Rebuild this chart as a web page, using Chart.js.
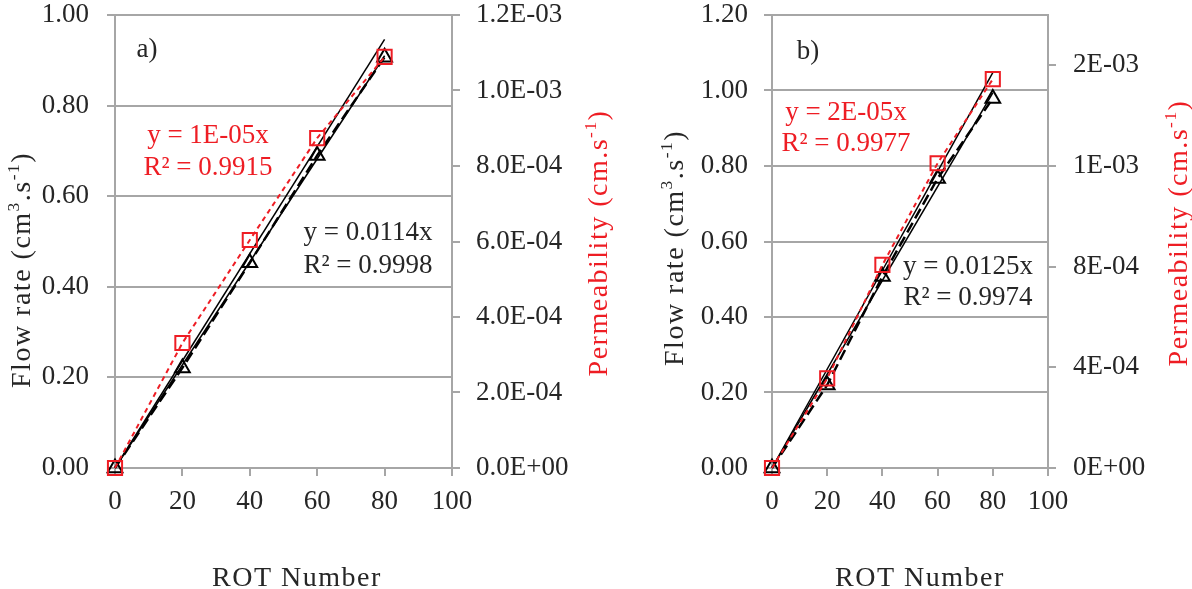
<!DOCTYPE html>
<html><head><meta charset="utf-8">
<script src="https://cdn.jsdelivr.net/npm/chart.js@4"></script>
<style>
html,body{margin:0;padding:0;background:#fff;width:1192px;height:589px;overflow:hidden}
.box{position:absolute;top:0;height:589px}
</style></head><body>
<div class="box" style="left:0;width:640px"><canvas id="ca" width="640" height="589"></canvas></div>
<div class="box" style="left:640px;width:552px"><canvas id="cb" width="552" height="589"></canvas></div>
<script>
// ---- data ----
const rotNumber = [0, 20, 40, 60, 80];
const flowA = [0, 0.221, 0.453, 0.690, 0.907];
const permA = [0, 3.31e-4, 6.04e-4, 8.74e-4, 1.089e-3];
const flowB = [0, 0.220, 0.507, 0.767, 0.979];
const permB = [0, 3.56e-4, 8.07e-4, 1.211e-3, 1.545e-3];

const xTicks = [0, 20, 40, 60, 80, 100];
const flowTicksA = [0, 0.2, 0.4, 0.6, 0.8, 1.0];
const permTicksA = [0, 2e-4, 4e-4, 6e-4, 8e-4, 1e-3, 1.2e-3];
const permLabelsA = ['0.0E+00','2.0E-04','4.0E-04','6.0E-04','8.0E-04','1.0E-03','1.2E-03'];
const flowTicksB = [0, 0.2, 0.4, 0.6, 0.8, 1.0, 1.2];
const permTicksB = [0, 4e-4, 8e-4, 1.2e-3, 1.6e-3];
const permLabelsB = ['0E+00','4E-04','8E-04','1E-03','2E-03'];

const eqFlowA = ['y = 0.0114x', 'R² = 0.9998'];
const eqPermA = ['y = 1E-05x', 'R² = 0.9915'];
const eqFlowB = ['y = 0.0125x', 'R² = 0.9974'];
const eqPermB = ['y = 2E-05x', 'R² = 0.9977'];

// ---- styling ----
const FONT = '"Liberation Serif", "Times New Roman", serif';
const GRID = '#a6a6a6';
const TXT = '#262626';
const RED = '#ee1d24';

function pts(xs, ys) { return xs.map((x, i) => ({x, y: ys[i]})); }
function slope(xs, ys) { // least squares through origin (trendline)
  let sxy = 0, sxx = 0;
  xs.forEach((x, i) => { sxy += x * ys[i]; sxx += x * x; });
  return sxy / sxx;
}
function trend(xs, ys) {
  const m = slope(xs, ys), last = xs[xs.length - 1];
  return [{x: 0, y: 0}, {x: last, y: m * last}];
}

function drawRich(ctx, it) {
  ctx.save();
  ctx.translate(it.x, it.y);
  if (it.rot) ctx.rotate(it.rot * Math.PI / 180);
  const size = it.size;
  if ('letterSpacing' in ctx) ctx.letterSpacing = (it.ls || 0) + 'px';
  const fnt = s => s + 'px ' + FONT;
  let total = 0;
  const ws = it.parts.map(p => {
    ctx.font = fnt(p.sup ? size * 0.62 : size);
    const w = ctx.measureText(p.t).width; total += w; return w;
  });
  let x = it.align === 'left' ? 0 : -total / 2;
  ctx.fillStyle = it.color;
  ctx.textBaseline = 'alphabetic';
  ctx.textAlign = 'left';
  const base = size * 0.34;
  it.parts.forEach((p, i) => {
    ctx.font = fnt(p.sup ? size * 0.62 : size);
    ctx.fillText(p.t, x, base - (p.sup ? size * 0.36 : 0));
    x += ws[i];
  });
  ctx.restore();
}

function textPlugin(items) {
  return { id: 'texts', afterDraw(chart) { items.forEach(it => drawRich(chart.ctx, it)); } };
}

const flowTitle = [{t: 'Flow rate (cm'}, {t: '3', sup: true}, {t: '.s'}, {t: '-1', sup: true}, {t: ')'}];
const permTitle = [{t: 'Permeability (cm.s'}, {t: '-1', sup: true}, {t: ')'}];

function makeChart(id, cfg) {
  const tickFont = {family: FONT, size: 27};
  const datasets = [
    {data: trend(rotNumber, cfg.flow), yAxisID: 'y', borderColor: '#000', borderWidth: 1.5, pointRadius: 0, order: 4},
    {data: trend(rotNumber, cfg.perm), yAxisID: 'y1', borderColor: '#000', borderWidth: 1.5, pointRadius: 0, order: 3},
    {data: pts(rotNumber, cfg.flow), yAxisID: 'y', borderColor: '#000', borderWidth: 2.5, borderDash: [11, 5],
     pointStyle: 'triangle', pointRadius: 8.5, pointBorderWidth: 2, pointBackgroundColor: 'rgba(0,0,0,0)', pointBorderColor: '#000', order: 2},
    {data: pts(rotNumber, cfg.perm), yAxisID: 'y1', borderColor: RED, borderWidth: 2, borderDash: [5, 4],
     pointStyle: 'rect', pointRadius: 10, pointBorderWidth: 2, pointBackgroundColor: 'rgba(0,0,0,0)', pointBorderColor: RED, order: 1}
  ];
  const setTicks = arr => s => { s.ticks = arr.map(v => ({value: v})); };
  const noPadV = w => s => { s.width = w; s.paddingTop = 0; s.paddingBottom = 0; };
  return new Chart(document.getElementById(id), {
    type: 'line',
    data: {datasets},
    plugins: [textPlugin(cfg.texts)],
    options: {
      responsive: false, animation: false, devicePixelRatio: 1,
      layout: {padding: {top: 15, left: 0, right: 0, bottom: 0}},
      plugins: {legend: {display: false}, tooltip: {enabled: false}},
      elements: {line: {tension: 0}},
      clip: false,
      scales: {
        x: {type: 'linear', min: 0, max: 100, afterBuildTicks: setTicks(xTicks),
            grid: {drawOnChartArea: false, drawTicks: true, tickLength: 8, color: GRID, lineWidth: 2},
            border: {color: GRID, width: 2},
            ticks: {font: tickFont, color: TXT, padding: 10, maxRotation: 0},
            afterFit: s => { s.height = 121; s.paddingLeft = 0; s.paddingRight = 0; }},
        y: {position: 'left', min: 0, max: cfg.flowMax, afterBuildTicks: setTicks(cfg.flowTicks),
            grid: {color: GRID, lineWidth: 2, tickLength: 8},
            border: {color: GRID, width: 2},
            ticks: {font: tickFont, color: TXT, padding: cfg.lpad, callback: v => v.toFixed(2)},
            afterFit: noPadV(cfg.leftW)},
        y1: {position: 'right', min: 0, max: cfg.permMax, afterBuildTicks: setTicks(cfg.permTicks),
            grid: {drawOnChartArea: false, color: GRID, lineWidth: 2, tickLength: 8},
            border: {color: GRID, width: 2},
            ticks: {font: tickFont, color: TXT, padding: cfg.rpad, callback: (v, i) => cfg.permLabels[i]},
            afterFit: noPadV(cfg.rightW)}
      }
    }
  });
}

const S = 27;
makeChart('ca', {
  flow: flowA, perm: permA, flowMax: 1.0, permMax: 1.2e-3,
  flowTicks: flowTicksA, permTicks: permTicksA, permLabels: permLabelsA,
  leftW: 115, rightW: 188, lpad: 18, rpad: 16,
  texts: [
    {parts: [{t: 'a)'}], x: 147, y: 48, size: S, color: TXT},
    {parts: [{t: eqPermA[0]}], x: 208, y: 134, size: S, color: RED},
    {parts: [{t: eqPermA[1]}], x: 208, y: 166, size: S, color: RED},
    {parts: [{t: eqFlowA[0]}], x: 368, y: 231, size: S, color: TXT},
    {parts: [{t: eqFlowA[1]}], x: 368, y: 264, size: S, color: TXT},
    {parts: [{t: 'ROT Number'}], x: 297, y: 576, size: 28, ls: 1.5, color: TXT},
    {parts: flowTitle, x: 20, y: 270, rot: -90, size: 28, ls: 1.5, color: TXT},
    {parts: permTitle, x: 597, y: 243, rot: -90, size: 28, ls: 1.5, color: RED}
  ]
});
makeChart('cb', {
  flow: flowB, perm: permB, flowMax: 1.2, permMax: 1.8e-3,
  flowTicks: flowTicksB, permTicks: permTicksB, permLabels: permLabelsB,
  leftW: 132, rightW: 144, lpad: 16, rpad: 17,
  texts: [
    {parts: [{t: 'b)'}], x: 808, y: 50, size: S, color: TXT},
    {parts: [{t: eqPermB[0]}], x: 846, y: 111, size: S, color: RED},
    {parts: [{t: eqPermB[1]}], x: 846, y: 142, size: S, color: RED},
    {parts: [{t: eqFlowB[0]}], x: 968, y: 265, size: S, color: TXT},
    {parts: [{t: eqFlowB[1]}], x: 968, y: 296, size: S, color: TXT},
    {parts: [{t: 'ROT Number'}], x: 920, y: 576, size: 28, ls: 1.5, color: TXT},
    {parts: flowTitle, x: 673, y: 248, rot: -90, size: 28, ls: 1.5, color: TXT},
    {parts: permTitle, x: 1177, y: 233, rot: -90, size: 28, ls: 1.5, color: RED}
  ].map(t => Object.assign({}, t, {x: t.x - 640}))
});
</script>
</body></html>
